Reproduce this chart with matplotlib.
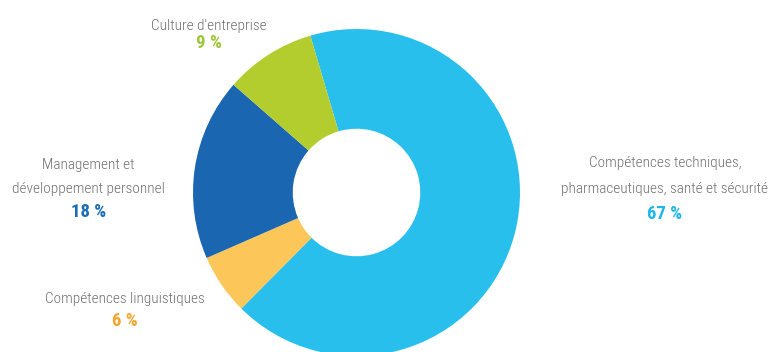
import matplotlib.pyplot as plt
from matplotlib import font_manager

# slice data, clockwise from the top
labels = ['Compétences techniques,\npharmaceutiques, santé et sécurité',
          'Compétences linguistiques',
          'Management et\ndéveloppement personnel',
          "Culture d'entreprise"]
values = [67, 6, 18, 9]
pct_labels = ['67 %', '6 %', '18 %', '9 %']

slice_colors = ['#29bfed', '#fcc659', '#1b66b1', '#b3cd2f']
text_colors = ['#1fb6ea', '#f5a52a', '#1a6cb6', '#9fc63b']

# pick a narrow font if one is there
names = {f.name for f in font_manager.fontManager.ttflist}
fam = 'DejaVu Sans'
for n in ['Roboto Condensed', 'Liberation Sans Narrow', 'Open Sans Condensed', 'DejaVu Sans']:
    if n in names:
        fam = n
        break

W, H = 779, 352
fig = plt.figure(figsize=(W / 100, H / 100), dpi=100)
ax = fig.add_axes([0, 0, 1, 1])

cx, cy, r = 356.5, H - 192.5, 163.5
ax.pie(values, colors=slice_colors, startangle=106.4, counterclock=False,
       center=(cx, cy), radius=r, frame=True,
       wedgeprops=dict(width=r * 0.61, linewidth=0))
ax.set_xlim(0, W)
ax.set_ylim(0, H)
ax.set_aspect('equal')
ax.axis('off')

gray = '#6e6e6e'

# x centre, baselines of the name lines, baseline of the percent (pixels from top)
label_pos = [(665, [167, 193], 219), (125, [303], 326),
             (88.5, [169, 193], 217), (209, [30], 48)]

for lab, pct, col, (x, ys, yp) in zip(labels, pct_labels, text_colors, label_pos):
    for line, y in zip(lab.split('\n'), ys):
        ax.text(x, H - y, line, ha='center', va='baseline', fontsize=11,
                color=gray, family=fam, fontstretch='condensed', fontweight='light')
    ax.text(x, H - yp, pct, ha='center', va='baseline', fontsize=13.5,
            color=col, family=fam, fontstretch='condensed', fontweight='bold')

fig.savefig('out.png', dpi=100)
